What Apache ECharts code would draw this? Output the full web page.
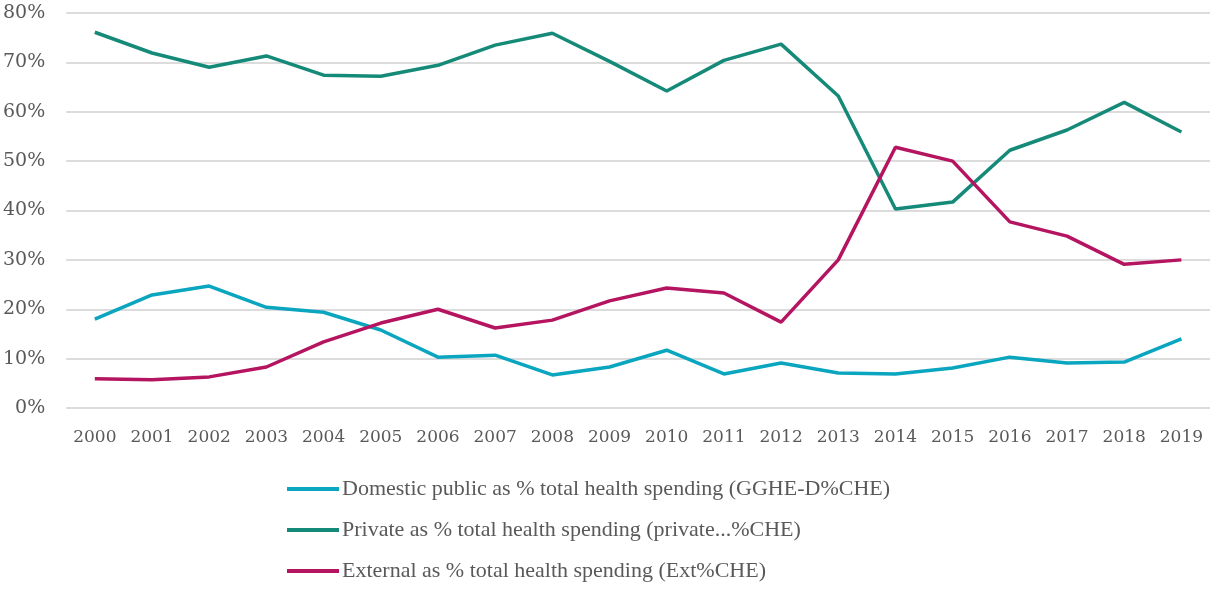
<!DOCTYPE html>
<html>
<head>
<meta charset="utf-8">
<script src="https://cdn.jsdelivr.net/npm/echarts@6/dist/echarts.min.js"></script>
<style>
	html, body { margin: 0; padding: 0; background: #fff; }
	#chart { width: 1210px; height: 589px; }
</style>
</head>
<body>
<div id="chart"></div>
<script>
var years = ['2000', '2001', '2002', '2003', '2004', '2005', '2006', '2007', '2008', '2009',
	'2010', '2011', '2012', '2013', '2014', '2015', '2016', '2017', '2018', '2019'];

// % of current health expenditure
var domesticPublic = [18.0, 22.9, 24.7, 20.4, 19.4, 15.8, 10.3, 10.7, 6.7, 8.3,
	11.7, 6.9, 9.1, 7.1, 6.9, 8.1, 10.3, 9.1, 9.3, 14.0];
var privateShare = [76.1, 71.9, 69.0, 71.3, 67.4, 67.2, 69.4, 73.5, 75.9, 70.2,
	64.2, 70.4, 73.7, 63.2, 40.3, 41.7, 52.2, 56.3, 61.9, 55.9];
var external = [5.9, 5.7, 6.3, 8.3, 13.4, 17.2, 20.0, 16.2, 17.8, 21.7,
	24.3, 23.3, 17.4, 30.0, 52.8, 50.0, 37.7, 34.8, 29.1, 30.0];

var seriesNames = [
	'Domestic public as % total health spending (GGHE-D%CHE)',
	'Private as % total health spending (private...%CHE)',
	'External as % total health spending (Ext%CHE)'
];
var colors = ['#0aa5bf', '#168a78', '#b51560'];

var textColor = '#595959';

function lineSeries(name, data, color){
	return {
		name: name,
		type: 'line',
		data: data,
		showSymbol: false,
		symbol: 'none',
		lineStyle: { color: color, width: 3.5 },
		itemStyle: { color: color }
	};
}

var chart = echarts.init(document.getElementById('chart'));
chart.setOption({
	animation: false,
	grid: { left: 65, right: 0, top: 13, bottom: 181, containLabel: false },
	legend: {
		orient: 'vertical',
		left: 287,
		top: 478,
		padding: 0,
		height: 111,
		icon: 'rect',
		itemWidth: 52,
		itemHeight: 4,
		itemGap: 19,
		selectedMode: false,
		textStyle: { fontFamily: 'Liberation Serif', fontSize: 22, color: textColor, lineHeight: 20, padding: [0, 0, 0, -2] },
		data: seriesNames
	},
	xAxis: {
		type: 'category',
		data: years,
		boundaryGap: true,
		axisLine: { show: false },
		axisTick: { show: false },
		axisLabel: { interval: 0, fontFamily: 'DejaVu Serif', fontSize: 17, color: textColor, margin: 21 }
	},
	yAxis: {
		type: 'value',
		min: 0,
		max: 80,
		interval: 10,
		axisLine: { show: false },
		axisTick: { show: false },
		axisLabel: { formatter: '{value}%', fontFamily: 'DejaVu Serif', fontSize: 19, color: textColor, margin: 21 },
		splitLine: { lineStyle: { color: '#dcdcdc', width: 2 } }
	},
	series: [
		lineSeries(seriesNames[0], domesticPublic, colors[0]),
		lineSeries(seriesNames[1], privateShare, colors[1]),
		lineSeries(seriesNames[2], external, colors[2])
	]
});
</script>
</body>
</html>
